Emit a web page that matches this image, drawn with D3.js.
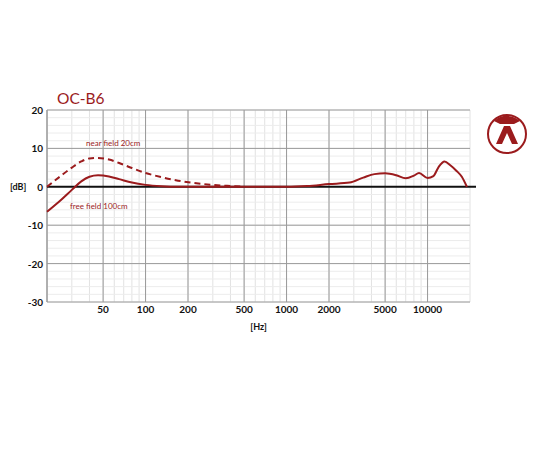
<!DOCTYPE html><html><head><meta charset="utf-8"><script src="https://cdn.jsdelivr.net/npm/d3@7"></script>
<style>body{margin:0;background:#fff}</style></head><body><svg id="c" width="550" height="450"></svg>
<script>
const xTicks=[50,100,200,500,1000,2000,5000,10000];
const yTicks=[20,10,0,-10,-20,-30];
const freeHz=[20,25,30,35,40,46,55,65,80,100,130,170,250,500,1000,1400,2000,2800,3500,4200,5000,6000,7000,8000,8700,10000,11000,12000,13200,14500,16000,17500,19000];
const freeDb=[-6.5,-3.5,-0.8,1.4,2.6,3,2.7,2,1.1,0.5,0.15,0,0,0,0,0.2,0.7,1.1,2.4,3.3,3.5,3,2.2,2.9,3.6,2.3,2.8,5.2,6.6,5.6,4.2,2.6,0];
const nearHz=[20,25,30,35,40,45,55,65,80,100,130,170,220,300,400,500];
const nearDb=[0,2.8,5,6.6,7.4,7.5,7.1,6.2,4.9,3.6,2.5,1.6,1,0.5,0.2,0];
const red="#9b1b1d";
const svg=d3.select("#c");
const x=d3.scaleLog().domain([20,20000]).range([47,470]);
const y=d3.scaleLinear().domain([-30,20]).range([302,110]);
const g=svg.append("g");
const minorX=[];for(let d=10;d<=10000;d*=10)for(let k=1;k<10;k++){const v=d*k;if(v>=20&&v<=20000)minorX.push(v);}
g.selectAll(".mx").data(minorX).enter().append("line").attr("x1",d=>x(d)).attr("x2",d=>x(d)).attr("y1",y(20)).attr("y2",y(-30)).attr("stroke","#e2e2e2").attr("stroke-width",1);
g.selectAll(".my").data(d3.range(-30,21,2)).enter().append("line").attr("x1",x(20)).attr("x2",x(20000)).attr("y1",d=>y(d)).attr("y2",d=>y(d)).attr("stroke","#ececec").attr("stroke-width",1);
g.selectAll(".Mx").data(xTicks).enter().append("line").attr("x1",d=>x(d)).attr("x2",d=>x(d)).attr("y1",y(20)).attr("y2",y(-30)).attr("stroke","#9a9a9a").attr("stroke-width",1);
g.selectAll(".My").data(yTicks.filter(d=>d!==0)).enter().append("line").attr("x1",x(20)).attr("x2",x(20000)).attr("y1",d=>y(d)).attr("y2",d=>y(d)).attr("stroke","#9a9a9a").attr("stroke-width",1);
g.append("line").attr("x1",x(20)).attr("x2",x(20)).attr("y1",y(20)).attr("y2",y(-30)).attr("stroke","#9a9a9a").attr("stroke-width",1.5);
g.append("line").attr("x1",x(20)).attr("x2",x(20000)+6).attr("y1",y(0)).attr("y2",y(0)).attr("stroke","#111").attr("stroke-width",2);
const line=d3.line().x(d=>x(d[0])).y(d=>y(d[1])).curve(d3.curveMonotoneX);
g.append("path").attr("d",line(nearHz.map((h,i)=>[h,nearDb[i]]))).attr("fill","none").attr("stroke",red).attr("stroke-width",2).attr("stroke-dasharray","6,4");
g.append("path").attr("d",line(freeHz.map((h,i)=>[h,freeDb[i]]))).attr("fill","none").attr("stroke",red).attr("stroke-width",2);
const f="Lato, 'Open Sans', sans-serif";
g.selectAll(".xt").data(xTicks).enter().append("text").attr("x",d=>x(d)).attr("y",313).attr("text-anchor","middle").attr("font-family",f).attr("font-weight","bold").attr("font-size",10).attr("fill","#111").text(d=>d);
g.selectAll(".yt").data(yTicks).enter().append("text").attr("x",43).attr("y",d=>y(d)+4).attr("text-anchor","end").attr("font-family",f).attr("font-weight","bold").attr("font-size",10).attr("fill","#111").text(d=>d);
g.append("text").attr("x",10).attr("y",y(0)+3.5).attr("font-family",f).attr("font-weight","bold").attr("font-size",9).attr("fill","#111").text("[dB]");
g.append("text").attr("x",x(1000)-28).attr("y",330).attr("text-anchor","middle").attr("font-family",f).attr("font-weight","bold").attr("font-size",9).attr("fill","#111").text("[Hz]");
g.append("text").attr("x",57).attr("y",104).attr("font-family",f).attr("font-size",15.5).attr("fill",red).text("OC-B6");
g.append("text").attr("x",86).attr("y",146).attr("font-family",f).attr("font-size",8).attr("fill",red).text("near field 20cm");
g.append("text").attr("x",70).attr("y",209).attr("font-family",f).attr("font-size",8).attr("fill",red).text("free field 100cm");
const lg=svg.append("g").attr("transform","translate(507,134)");
lg.append("circle").attr("r",19).attr("fill","none").attr("stroke",red).attr("stroke-width",2);
lg.append("path").attr("d","M-13,-13 A19,19 0 0 1 13,-13 L7,-10 L-7,-10 Z").attr("fill",red);
lg.append("path").attr("d","M-3,-8 L3,-8 L11,10 L5,10 L0,-1 L-5,10 L-11,10 Z").attr("fill",red);
</script></body></html>
